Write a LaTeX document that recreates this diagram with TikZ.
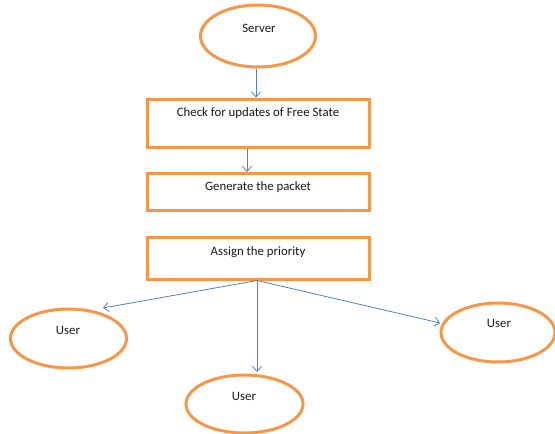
\documentclass[tikz,border=0pt]{standalone}
\usepackage{fontspec}
\setmainfont{Carlito}
\usetikzlibrary{shapes.geometric,arrows.meta}
\definecolor{boxorange}{HTML}{F79646}
\definecolor{arrowblue}{HTML}{4F81BD}
\tikzset{
  oval/.style={ellipse,draw=boxorange,line width=3pt,inner sep=0pt,fill=white},
  boxshape/.style={rectangle,draw=boxorange,line width=3pt,inner sep=0pt,minimum width=222pt,fill=white},
  lbl/.style={inner sep=0pt,font=\fontsize{12.8}{15}\selectfont,text=black!90},
  conn/.style={draw=arrowblue,line width=0.8pt,-{Straight Barb[length=5pt,width=9pt]}}
}
\begin{document}
\begin{tikzpicture}[x=1pt,y=-1pt]
\useasboundingbox (0,0) rectangle (555,434);
% shapes
\node[oval,minimum width=115pt,minimum height=62pt] (server) at (258,36) {};
\node[boxshape,minimum height=48pt] (check) at (258,123) {};
\node[boxshape,minimum height=37pt] (gen) at (258,191.5) {};
\node[boxshape,minimum height=42pt] (prio) at (258,258) {};
\node[oval,minimum width=116pt,minimum height=59pt] (userL) at (68.5,338.5) {};
\node[oval,minimum width=117pt,minimum height=58pt] (userB) at (244.5,404) {};
\node[oval,minimum width=114pt,minimum height=59pt] (userR) at (498,332.5) {};
% texts
\node[lbl] (tServer) at (259,28) {Server};
\node[lbl] (tCheck) at (258,113) {Check for updates of Free State};
\node[lbl] (tGen) at (258,187) {Generate the packet};
\node[lbl] (tPrio) at (258,252) {Assign the priority};
\node[lbl] (tUL) at (68,330) {User};
\node[lbl] (tUB) at (244,396) {User};
\node[lbl] (tUR) at (499,323) {User};
% connector ends
\coordinate (a1s) at (256,67);
\coordinate (a1e) at (256,97.5);
\coordinate (a2s) at (247,148.5);
\coordinate (a2e) at (247,172);
\coordinate (ps) at (257,280);
\coordinate (eL) at (103,308);
\coordinate (eB) at (257,372);
\coordinate (eR) at (440,323);
% connectors
\draw[conn] (server.south -| a1s) -- (a1e);
\draw[conn] (check.south -| a2s) -- (a2e);
\draw[conn] (prio.south -| ps) -- (eL);
\draw[conn] (prio.south -| ps) -- (eB);
\draw[conn] (prio.south -| ps) -- (eR);
\end{tikzpicture}
\end{document}
